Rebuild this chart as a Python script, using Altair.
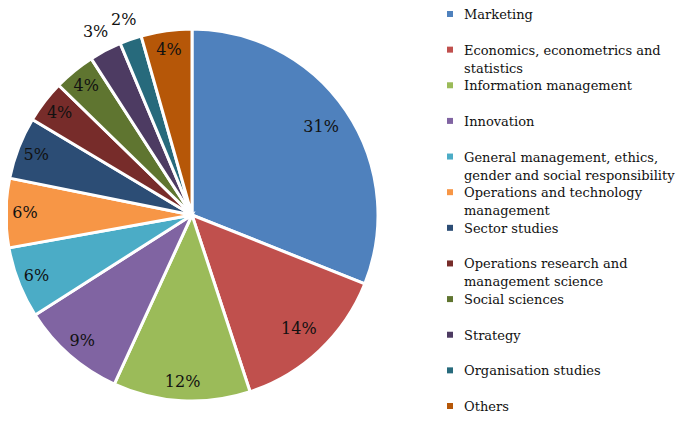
import altair as alt
import pandas as pd

categories = [
    "Marketing",
    "Economics, econometrics and statistics",
    "Information management",
    "Innovation",
    "General management, ethics, gender and social responsibility",
    "Operations and technology management",
    "Sector studies",
    "Operations research and management science",
    "Social sciences",
    "Strategy",
    "Organisation studies",
    "Others",
]
legend_labels = [
    "Marketing",
    "Economics, econometrics and\nstatistics",
    "Information management",
    "Innovation",
    "General management, ethics,\ngender and social responsibility",
    "Operations and technology\nmanagement",
    "Sector studies",
    "Operations research and\nmanagement science",
    "Social sciences",
    "Strategy",
    "Organisation studies",
    "Others",
]
values = [31.0, 13.9, 11.9, 9.1, 6.2, 6.0, 5.4, 3.7, 3.6, 2.8, 1.9, 4.4]
pct_labels = ["31%", "14%", "12%", "9%", "6%", "6%", "5%", "4%", "4%", "3%", "2%", "4%"]
colors = ["#4F81BD", "#C0504D", "#9BBB59", "#8064A2", "#4BACC6", "#F79646",
          "#2C4D75", "#772C2A", "#5F7530", "#4D3B62", "#276A7C", "#B65708"]

df = pd.DataFrame({
    "idx": list(range(len(categories))),
    "category": categories,
    "legend": legend_labels,
    "value": values,
    "pct": pct_labels,
})

color_scale = alt.Scale(domain=categories, range=colors)
FONT = "DejaVu Serif"
CX, CY, R = 184, 207, 186

base = alt.Chart(df)

pie = base.mark_arc(radius=R, stroke="white", strokeWidth=3).encode(
    theta=alt.Theta("value:Q", stack=True),
    color=alt.Color("category:N", scale=color_scale, legend=None),
    order=alt.Order("idx:Q"),
    x=alt.value(CX),
    y=alt.value(CY),
)

labels = base.transform_window(
    cum="sum(value)", sort=[alt.SortField("idx", order="ascending")], frame=[None, 0]
).transform_joinaggregate(
    total="sum(value)"
).transform_calculate(
    ang="2 * PI * (datum.cum - datum.value / 2) / datum.total",
    r="datum.value < 3 ? 207 : (datum.value > 13 ? 156 : 167)",
).mark_text(font=FONT, fontSize=16, color="#111111", align="center", baseline="middle").encode(
    theta=alt.Theta("ang:Q", scale=None),
    radius=alt.Radius("r:Q", scale=None),
    text="pct:N",
    x=alt.value(CX),
    y=alt.value(CY),
)

ypos = alt.Y("category:N", sort=categories, axis=None,
             scale=alt.Scale(type="point", padding=0, range=[6, 398]))

leg_sym = base.mark_square(size=36, opacity=1).encode(
    x=alt.value(442),
    y=ypos,
    color=alt.Color("category:N", scale=color_scale, legend=None),
)

leg_txt = base.mark_text(font=FONT, fontSize=13, color="#111111", align="left",
                         baseline="alphabetic", dy=5, lineBreak="\n", lineHeight=18).encode(
    x=alt.value(456),
    y=ypos,
    text="legend:N",
)

chart = alt.layer(pie, labels, leg_sym, leg_txt).properties(
    width=669, height=405,
    autosize=alt.AutoSizeParams(type="none"),
    padding=0,
).configure_view(stroke=None)

chart.save("out.html", embed_options={"renderer": "svg", "actions": False})
